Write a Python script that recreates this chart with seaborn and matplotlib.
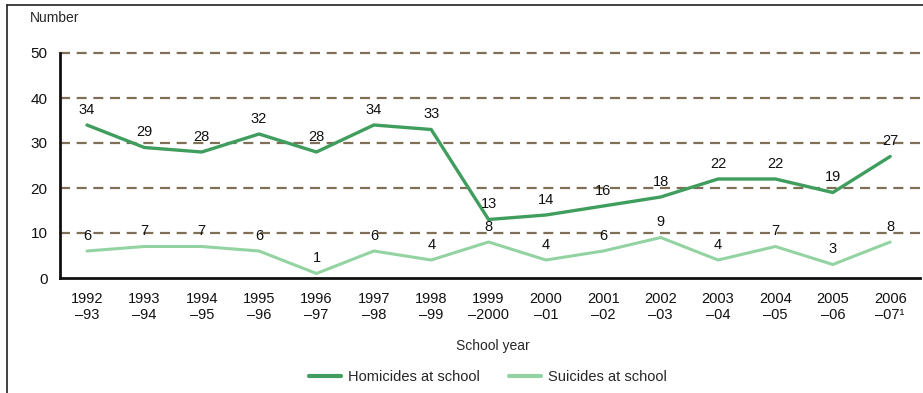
import numpy as np
import pandas as pd
import seaborn as sns
import matplotlib.pyplot as plt
from matplotlib.lines import Line2D

# Data
school_years = ["1992\n\u201393", "1993\n\u201394", "1994\n\u201395", "1995\n\u201396",
                "1996\n\u201397", "1997\n\u201398", "1998\n\u201399", "1999\n\u20132000",
                "2000\n\u201301", "2001\n\u201302", "2002\n\u201303", "2003\n\u201304",
                "2004\n\u201305", "2005\n\u201306", "2006\n\u201307\u00b9"]
homicides = [34, 29, 28, 32, 28, 34, 33, 13, 14, 16, 18, 22, 22, 19, 27]
suicides = [6, 7, 7, 6, 1, 6, 4, 8, 4, 6, 9, 4, 7, 3, 8]

series_names = ["Homicides at school", "Suicides at school"]
series_colors = ["#3f9d5d", "#93d3a2"]

sns.set_style("white")
plt.rcParams['font.family'] = ['Liberation Sans', 'DejaVu Sans']

df = pd.DataFrame({
    "pos": list(range(len(school_years))) * 2,
    "value": homicides + suicides,
    "series": [series_names[0]] * len(homicides) + [series_names[1]] * len(suicides),
})

fig = plt.figure(figsize=(9.23, 3.93), dpi=100)
ax = fig.add_axes([60 / 923, 1 - 278 / 393, 860 / 923, 225 / 393])

# dashed grid lines
for yv in [10, 20, 30, 40, 50]:
    ax.axhline(yv, color="#7f6f57", linestyle=(0, (4.5, 3)), linewidth=1.6,
               zorder=1, clip_on=False)

sns.lineplot(data=df, x="pos", y="value", hue="series", palette=series_colors,
             ax=ax, legend=False, zorder=3)
for line, lw in zip(ax.get_lines()[-2:], [2.4, 2.2]):
    line.set_linewidth(lw)

# value labels
for i, v in enumerate(homicides):
    ax.annotate(str(v), (i, v), xytext=(0, 6), textcoords="offset points",
                ha="center", va="bottom", fontsize=10.5, color="#111111", zorder=4)
for i, v in enumerate(suicides):
    ax.annotate(str(v), (i, v), xytext=(0, 6), textcoords="offset points",
                ha="center", va="bottom", fontsize=10.5, color="#111111", zorder=4)

ax.set_xlim(-0.47, 14.52)
ax.set_ylim(0, 50)
ax.set_xticks(range(len(school_years)))
ax.set_xticklabels(school_years, fontsize=10.5, linespacing=1.2, color="#111111")
ax.set_yticks([0, 10, 20, 30, 40, 50])
ax.set_yticklabels(["0", "10", "20", "30", "40", "50"], fontsize=11, color="#111111")
ax.tick_params(axis="x", direction="out", length=5, width=1.5, color="#111111", pad=5)
ax.tick_params(axis="y", length=0, pad=9)
ax.set_xlabel("")
ax.set_ylabel("")

for side in ["top", "right"]:
    ax.spines[side].set_visible(False)
for side in ["left", "bottom"]:
    ax.spines[side].set_color("#111111")
    ax.spines[side].set_linewidth(2)

fig.text(30 / 923, 1 - 18 / 393, "Number", fontsize=10, va="center", ha="left")
fig.text(493 / 923, 1 - 346 / 393, "School year", fontsize=10, va="center", ha="center")

handles = [Line2D([0], [0], color=c, linewidth=3) for c in series_colors]
fig.legend(handles, series_names, loc="center", bbox_to_anchor=(488 / 923, 1 - 377 / 393),
           ncol=2, frameon=False, fontsize=10.5, handlelength=2.2, handletextpad=0.5,
           columnspacing=2.0)

# outer frame (top and left edges)
fig.add_artist(Line2D([7 / 923, 1.0], [1 - 5 / 393, 1 - 5 / 393],
                      transform=fig.transFigure, color="#222222", linewidth=1.2))
fig.add_artist(Line2D([7 / 923, 7 / 923], [1 - 5 / 393, 0],
                      transform=fig.transFigure, color="#222222", linewidth=1.2))

fig.savefig("out.png", dpi=100)
